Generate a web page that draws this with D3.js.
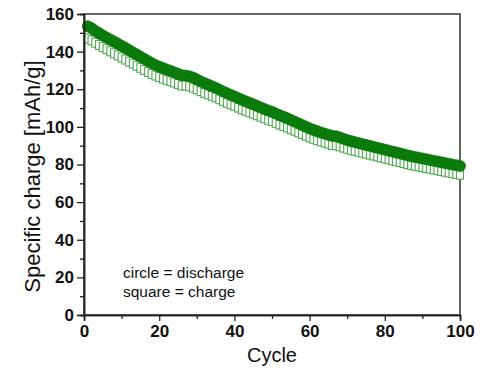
<!DOCTYPE html>
<html>
<head>
<meta charset="utf-8">
<script src="https://cdn.jsdelivr.net/npm/d3@7"></script>
<style>
  html, body { margin: 0; padding: 0; background: #fff; }
  svg { display: block; }
</style>
</head>
<body>
<svg id="chart" width="500" height="375"></svg>
<script>
// ---- data ----
const cycles = d3.range(1, 101);
const discharge = [
  153.5, 152.5, 151.0, 149.8, 148.6, 147.5, 146.4, 145.3, 144.2, 143.1,
  142.0, 140.8, 139.6, 138.5, 137.3, 136.2, 135.0, 133.9, 132.9, 132.0,
  131.2, 130.5, 129.8, 129.0, 128.2, 127.4, 127.3, 126.9, 126.2, 125.2,
  124.2, 123.3, 122.5, 121.6, 120.8, 119.8, 118.8, 117.9, 117.0, 116.2,
  115.3, 114.4, 113.6, 112.8, 112.0, 111.2, 110.3, 109.5, 108.7, 108.0,
  107.1, 106.2, 105.4, 104.6, 103.7, 102.8, 101.9, 101.0, 100.1, 99.2,
  98.4, 97.7, 97.0, 96.4, 95.8, 95.2, 95.0, 94.4, 93.7, 93.0,
  92.4, 91.9, 91.4, 90.9, 90.4, 89.9, 89.4, 88.9, 88.4, 87.9,
  87.4, 86.9, 86.4, 85.9, 85.4, 84.9, 84.4, 84.0, 83.6, 83.2,
  82.8, 82.4, 82.0, 81.6, 81.2, 80.8, 80.4, 80.0, 79.6, 79.2
];
const charge = [
  147.0, 146.0, 144.8, 143.6, 142.4, 141.3, 140.2, 139.1, 138.0, 136.9,
  135.8, 134.7, 133.6, 132.5, 131.4, 130.3, 129.2, 128.2, 127.3, 126.5,
  125.7, 125.0, 124.3, 123.6, 122.8, 122.0, 122.0, 121.6, 120.9, 120.0,
  119.0, 118.1, 117.3, 116.5, 115.7, 114.7, 113.8, 112.9, 112.0, 111.2,
  110.3, 109.4, 108.6, 107.8, 107.0, 106.2, 105.4, 104.6, 103.8, 103.1,
  102.2, 101.3, 100.5, 99.7, 98.8, 98.0, 97.1, 96.2, 95.3, 94.5,
  93.7, 93.0, 92.3, 91.7, 91.1, 90.4, 90.3, 89.7, 89.0, 88.4,
  87.8, 87.3, 86.8, 86.3, 85.8, 85.3, 84.8, 84.3, 83.8, 83.3,
  82.8, 82.3, 81.8, 81.3, 80.8, 80.3, 79.8, 79.4, 79.0, 78.6,
  78.2, 77.8, 77.4, 77.0, 76.6, 76.2, 75.8, 75.4, 75.0, 74.6
];
const xTicks = [0, 20, 40, 60, 80, 100];
const yTicks = [0, 20, 40, 60, 80, 100, 120, 140, 160];
const xMinor = [10, 30, 50, 70, 90];
const yMinor = [10, 30, 50, 70, 90, 110, 130, 150];
const legendLines = ["circle = discharge", "square = charge"];

// ---- layout ----
const svg = d3.select("#chart");
const L = 84, R = 460, T = 14, B = 315;
const x = d3.scaleLinear().domain([0, 100]).range([L, R]);
const y = d3.scaleLinear().domain([0, 160]).range([B, T]);

const font = "Liberation Sans, Arial, Helvetica, sans-serif";

// frame
svg.append("rect")
  .attr("x", L).attr("y", T).attr("width", R - L).attr("height", B - T)
  .attr("fill", "none").attr("stroke", "#333").attr("stroke-width", 1.5);

// charge squares (open)
const sqW = 7, sqH = 9;
svg.append("g").selectAll("rect").data(cycles).join("rect")
  .attr("x", (d) => x(d) - sqW / 2)
  .attr("y", (d, i) => y(charge[i]) - sqH / 2)
  .attr("width", sqW).attr("height", sqH)
  .attr("fill", "#fff")
  .attr("stroke", "#4fa84f").attr("stroke-width", 1.1);

// discharge circles (filled)
svg.append("g").selectAll("circle").data(cycles).join("circle")
  .attr("cx", (d) => x(d))
  .attr("cy", (d, i) => y(discharge[i]))
  .attr("r", 5.6)
  .attr("fill", "#0b7d0b")
  .attr("stroke", "#0a700a").attr("stroke-width", 0.6);

// axes
const xAxis = d3.axisBottom(x).tickValues(xTicks).tickSize(6).tickPadding(4).tickFormat(d3.format("d"));
const yAxis = d3.axisLeft(y).tickValues(yTicks).tickSize(7).tickPadding(3).tickFormat(d3.format("d"));
const xMinorAxis = d3.axisBottom(x).tickValues(xMinor).tickSize(4).tickFormat("");
const yMinorAxis = d3.axisLeft(y).tickValues(yMinor).tickSize(4).tickFormat("");

function style(g) {
  g.select(".domain").attr("stroke", "#222").attr("stroke-width", 1.5);
  g.selectAll(".tick line").attr("stroke", "#222").attr("stroke-width", 1.3);
  g.selectAll(".tick text")
    .attr("font-family", font).attr("font-size", 17).attr("font-weight", "bold").attr("fill", "#111");
}
svg.append("g").attr("transform", `translate(0,${B})`).call(xAxis).call(style);
svg.append("g").attr("transform", `translate(0,${B})`).call(xMinorAxis).call(style);
svg.append("g").attr("transform", `translate(${L},0)`).call(yAxis).call(style);
svg.append("g").attr("transform", `translate(${L},0)`).call(yMinorAxis).call(style);

// axis titles
svg.append("text")
  .attr("x", (L + R) / 2).attr("y", 362)
  .attr("text-anchor", "middle")
  .attr("font-family", font).attr("font-size", 20).attr("fill", "#111")
  .text("Cycle");
svg.append("text")
  .attr("transform", `translate(40,${(T + B) / 2 + 12}) rotate(-90)`)
  .attr("text-anchor", "middle")
  .attr("font-family", font).attr("font-size", 22).attr("fill", "#111")
  .text("Specific charge [mAh/g]");

// legend text
svg.append("g").selectAll("text").data(legendLines).join("text")
  .attr("x", 123).attr("y", (d, i) => 278 + i * 19)
  .attr("font-family", font).attr("font-size", 15.5).attr("fill", "#111")
  .text((d) => d);
</script>
</body>
</html>
